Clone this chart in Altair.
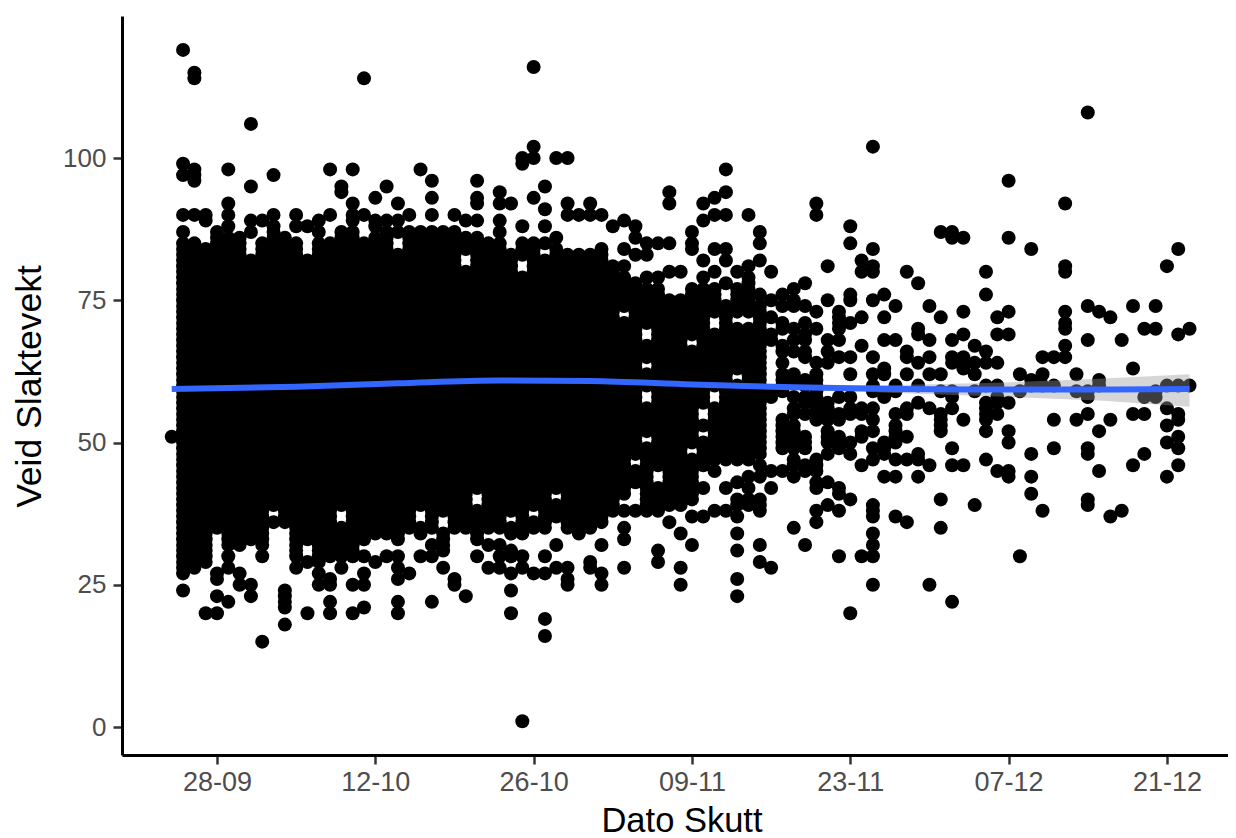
import altair as alt
import pandas as pd

BASE = pd.Timestamp("2021-09-28")

# Dense columns of the point cloud: day after 28-09, lowest and highest whole-kg weight in the solid run
dense_days = list(range(-3, 49))
dense_lo = [28,29,29,35,32,32,33,32,36,36,30,29,29,30,30,30,33,34,34,33,35,34,35,33,35,35,34,35,35,34,34,35,35,37,35,34,35,36,38,41,43,38,38,39,39,40,46,47,47,47,47,48]
dense_hi = [85,85,84,86,86,86,85,85,86,86,85,82,85,85,86,86,85,86,87,87,87,87,87,87,87,86,86,85,85,83,85,85,85,84,83,83,83,84,81,79,78,77,77,75,75,77,77,77,74,77,78,74]

# Empty spots inside the solid block
hole_days = [5,5,11,11,11,8,8,8,18,18,18,20,20,20,23,23,23,30,30,28,28,26,26,3,3,3,16,16,16,22,22,22,29,29,27,27,27,
             38,38,38,44,44,44,46,46,47,47,36,36,42,42,38,38,38,38,38,44,44,44,43,43,43,46,46,38,38,43,43,42,42,37,37,39,39,39]
hole_weights = [37,38,36,37,38,30,31,32,36,37,38,35,36,37,39,40,41,40,41,37,38,36,37,83,84,85,84,85,86,81,82,83,83,84,80,81,82,
                68,69,70,70,71,72,71,72,71,72,72,73,67,68,63,64,57,58,59,57,58,59,54,55,56,61,62,50,51,51,52,48,49,46,47,43,44,45]

# Separate points, by day
single_days = list(range(-4, 87))
single_weights = [
 [51],
 [119,99,97,90,87,27,24],
 [115,114,98,97,96,90,28],
 [90,89,20],
 [87,27,26,23,20],
 [98,92,90,88,30,28,22],
 [27,25],
 [106,95,89,87,25,23],
 [89,30,15],
 [97,90,88,87],
 [24,23,22,21,18],
 [90,88,28],
 [88,20],
 [89,87,27,25],
 [98,90,26,25,22,20],
 [95,94,87,28],
 [98,92,90,89,87,25,20],
 [114,90,30,27,25,21],
 [93,89,88,29],
 [95,89,30],
 [92,89,30,28,26,22,20],
 [90,27],
 [98,30],
 [96,93,90,32,30,22],
 [32,31,28],
 [90,26,25],
 [89,23],
 [96,93,92,89,33,30],
 [32,28],
 [94,92,89,87,32,30,28],
 [92,31,30,27,24,20],
 [100,99,88,30,28,1],
 [116,102,100,93,27],
 [95,91,88,30,27,19,16],
 [100,86,32,28],
 [100,92,90,28,26,25],
 [90],
 [92,90,29,28],
 [90,32,27,25],
 [88],
 [89,84,81,38,35,33,28],
 [88,86,83,38],
 [85,83,79],
 [85,79,31,29],
 [94,92,85,80,36],
 [80,34,28,25],
 [87,85,84,37,32],
 [92,89,82,79,42,37],
 [93,90,84,80,45,38],
 [98,94,90,84,82,78,42,38],
 [80,43,40,39,37,34,31,26,23],
 [90,81,79,44,42,40,39],
 [87,85,82,76,46,44,40,39,38,32,29],
 [80,75,72,69,68,59,58,45,42,28],
 [76,74,71,70,67,66,64,62,61,60,59,54,53,52,51,50,49,45],
 [77,75,74,70,68,66,62,61,58,56,55,53,52,51,50,49,47,46,44,35],
 [78,74,71,69,68,66,65,61,60,58,57,55,51,50,49,46,45,32],
 [92,90,73,70,64,62,61,60,59,58,57,56,55,54,47,46,45,43,42,38,36],
 [81,75,68,66,64,57,56,55,54,52,51,50,48,43,39],
 [73,72,71,70,68,65,58,55,54,51,50,49,42,41,38,30],
 [88,85,76,75,71,65,62,58,56,55,50,48,40,20],
 [82,80,72,67,56,55,52,51,46,30],
 [102,84,81,80,75,65,62,60,59,56,54,52,49,47,39,38,37,34,32,30,25],
 [76,72,68,63,62,58,50,49,48,44],
 [74,68,60,59,55,53,52,51,50,47,44,37],
 [80,66,65,62,56,55,51,47,36],
 [78,70,69,64,60,57,48,47,44],
 [74,68,65,62,56,46,25],
 [87,72,62,59,55,54,53,52,40,35],
 [87,86,68,65,64,59,58,56,49,46,22],
 [86,73,69,65,64,63,54,46],
 [67,64,62,59,39],
 [80,76,66,64,60,57,56,55,54,52,47],
 [72,69,64,60,58,57,55,45],
 [96,86,73,69,57,52,50,45,44],
 [62,59,30],
 [84,61,60,48,44,41],
 [65,62,60,38],
 [65,60,54,49],
 [92,81,80,73,71,70,67,65],
 [62,59,54],
 [108,74,68,59,58,55,49,48,40,39],
 [73,61,60,52,45],
 [72,54,37],
 [68,38],
 [74,63,55,46],
 [70,58,55,48],
 [74,70,59,58],
 [81,60,56,53,50,44],
 [84,69,60,55,54,51,49,46],
 [70,60],
]

# Fitted smooth and its confidence band
smooth_days = [-4, 7, 16, 25, 33, 42, 51, 60, 69, 78, 86]
smooth_fit = [59.4, 59.8, 60.4, 60.9, 60.8, 60.2, 59.7, 59.4, 59.3, 59.3, 59.4]
smooth_lower = [59.0, 59.6, 60.2, 60.7, 60.6, 59.9, 59.4, 58.7, 58.1, 57.4, 56.3]
smooth_upper = [59.8, 60.0, 60.6, 61.1, 61.0, 60.5, 60.0, 60.1, 60.5, 61.2, 62.0]

tick_days = [0, 14, 28, 42, 56, 70, 84]
x_domain_days = [-8.4, 89.4]
y_ticks = [0, 25, 50, 75, 100]
y_domain = [-4.92, 124.96]
x_title = "Dato Skutt"
y_title = "Veid Slaktevekt"


def stamp(d):
    return (BASE + pd.Timedelta(days=d)).strftime("%Y-%m-%dT%H:%M:%S")


holes = set(zip(hole_days, hole_weights))
rows = []
for d, lo, hi in zip(dense_days, dense_lo, dense_hi):
    for w in range(lo, hi + 1):
        if (d, w) not in holes:
            rows.append((d, w))
for d, ws in zip(single_days, single_weights):
    rows.extend((d, w) for w in ws)
points = pd.DataFrame({"dato": [stamp(d) for d, _ in rows], "vekt": [w for _, w in rows]})
smooth = pd.DataFrame({
    "dato": [stamp(d) for d in smooth_days],
    "fit": smooth_fit, "lower": smooth_lower, "upper": smooth_upper,
})

x_scale = alt.Scale(domain=[stamp(x_domain_days[0]), stamp(x_domain_days[1])], nice=False)
y_scale = alt.Scale(domain=y_domain, nice=False, zero=False)
FONT = "Liberation Sans"

x_enc = alt.X("dato:T", scale=x_scale, title=x_title,
              axis=alt.Axis(values=[stamp(d) for d in tick_days], format="%d-%m", grid=False,
                            domainColor="black", domainWidth=3,
                            tickColor="#333333", tickWidth=2.5, tickSize=9,
                            labelColor="#4D4D4D", labelFont=FONT, labelFontSize=27, labelPadding=5,
                            labelOverlap=False, labelFlush=False,
                            titleColor="black", titleFont=FONT, titleFontSize=34.5,
                            titleFontWeight="normal", titleBaseline="alphabetic",
                            titleX=559.5, titleY=76))
y_enc = alt.Y("vekt:Q", scale=y_scale, title=y_title,
              axis=alt.Axis(values=y_ticks, grid=False,
                            domainColor="black", domainWidth=3,
                            tickColor="#333333", tickWidth=2.5, tickSize=9,
                            labelColor="#4D4D4D", labelFont=FONT, labelFontSize=26, labelPadding=7,
                            titleColor="black", titleFont=FONT, titleFontSize=35.5,
                            titleFontWeight="normal", titleBaseline="alphabetic",
                            titleX=-82, titleY=370))

dots = alt.Chart(points).mark_circle(size=196, color="black", opacity=1).encode(x=x_enc, y=y_enc)
band = alt.Chart(smooth).mark_area(color="#999999", opacity=0.4).encode(
    x=alt.X("dato:T", scale=x_scale), y=alt.Y("lower:Q", scale=y_scale), y2="upper:Q")
line = alt.Chart(smooth).mark_line(color="#3366FF", strokeWidth=6, interpolate="monotone").encode(
    x=alt.X("dato:T", scale=x_scale), y=alt.Y("fit:Q", scale=y_scale))

chart = (dots + band + line).properties(
    width=1106, height=739, autosize="none", background="white",
    padding={"left": 114, "top": 8, "right": 0, "bottom": 83},
).configure_view(stroke=None)

chart.save("out.html", embed_options={"renderer": "svg", "actions": False})
